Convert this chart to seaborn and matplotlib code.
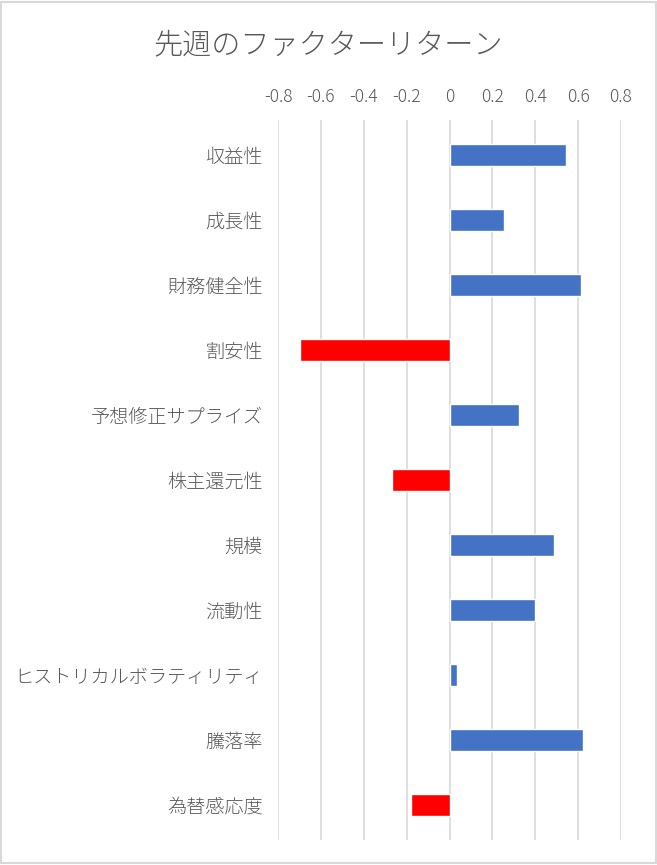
import numpy as np
import pandas as pd
import seaborn as sns
import matplotlib.pyplot as plt
from matplotlib.patches import Rectangle

factors = ["収益性", "成長性", "財務健全性", "割安性", "予想修正サプライズ", "株主還元性",
           "規模", "流動性", "ヒストリカルボラティリティ", "騰落率", "為替感応度"]
returns = [0.544, 0.255, 0.614, -0.698, 0.325, -0.269, 0.488, 0.398, 0.037, 0.625, -0.18]
xticks = [-0.8, -0.6, -0.4, -0.2, 0, 0.2, 0.4, 0.6, 0.8]
xtick_labels = ["-0.8", "-0.6", "-0.4", "-0.2", "0", "0.2", "0.4", "0.6", "0.8"]

df = pd.DataFrame({"factor": factors, "ret": returns})
df["sign"] = np.where(df["ret"] < 0, "neg", "pos")

sns.set_style("white")
plt.rcParams['font.family'] = ['Noto Sans CJK JP', 'DejaVu Sans']

fig = plt.figure(figsize=(6.57, 8.65), dpi=100)
ax = fig.add_axes([278 / 657, 1 - 840 / 865, (621 - 278) / 657, 720 / 865])

sns.barplot(data=df, x="ret", y="factor", hue="sign", order=factors,
            palette={"pos": "#4472C4", "neg": "#FF0000"}, width=0.34,
            saturation=1, dodge=False, legend=False, ax=ax, zorder=3)

ax.set_xlim(-0.8, 0.8)
ax.set_ylim(10.54, -0.54)
ax.set_xticks(xticks)
ax.set_xticklabels(xtick_labels)
ax.xaxis.tick_top()
ax.tick_params(axis="x", length=0, pad=10, labelsize=12.5, labelcolor="#595959")
ax.tick_params(axis="y", length=0, pad=11, labelsize=13.8, labelcolor="#595959")
for lab in ax.get_yticklabels() + ax.get_xticklabels():
    lab.set_fontweight("light")
ax.set_xlabel("")
ax.set_ylabel("")
ax.grid(axis="x", color="#D9D9D9", linewidth=1.2, zorder=0)
for s in ax.spines.values():
    s.set_visible(False)

fig.text(0.5, 1 - 45 / 865, "先週のファクターリターン", ha="center", va="center",
         fontsize=21, color="#595959", fontweight="light")

fig.patches.append(Rectangle((0.002, 0.002), 0.996, 0.996, transform=fig.transFigure,
                             fill=False, edgecolor="#D9D9D9", linewidth=1.5))

fig.savefig("out.png", dpi=100)
